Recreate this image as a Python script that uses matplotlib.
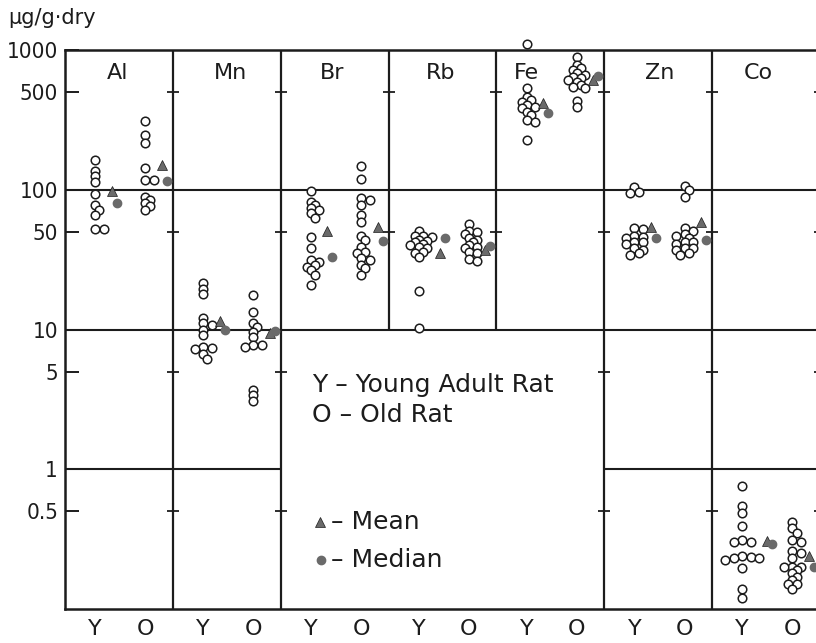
import numpy as np
import matplotlib.pyplot as plt
from matplotlib.ticker import NullLocator

# trace element levels, ug/g dry weight, young adult (Y) vs old (O) rats
elements = ["Al", "Mn", "Br", "Rb", "Fe", "Zn", "Co"]

al_young = [163, 137, 125, 114, 93, 78, 72, 66, 52, 52]
al_old = [312, 247, 215, 142, 117, 117, 89, 84, 80, 76, 72]
mn_young = [21.5, 19.5, 17.9, 12.1, 11.1, 10.8, 9.9, 9.1, 7.5, 7.4, 7.2, 6.7, 6.2]
mn_old = [17.6, 13.4, 11.1, 10.4, 9.6, 8.8, 7.7, 7.7, 7.5, 3.7, 3.4, 3.1]
br_young = [98, 82, 78, 74, 72, 68, 63, 46, 38.5, 31.4, 30.5, 28.9, 28.1, 26.6, 24.5, 20.8]
br_old = [148, 119, 87, 84, 78, 66, 59, 47, 43.7, 39, 36, 35, 32.3, 31.4, 28.9, 27.4, 24.5]
rb_young = [51, 47, 47, 46, 44, 43, 42, 41, 40, 39, 38, 36, 35, 33, 19, 10.3]
rb_old = [57, 51, 50, 48, 45, 44, 42, 40, 39, 38, 36, 35, 32, 31]
fe_young = [1104, 537, 464, 439, 425, 404, 391, 383, 362, 343, 315, 305, 227]
fe_old = [895, 782, 740, 720, 681, 662, 644, 627, 610, 593, 561, 546, 532, 431, 391]
zn_young = [104, 97, 95, 53, 52, 47, 46, 45, 42, 42, 41, 38, 37, 35, 34]
zn_old = [107, 100, 89, 53, 51, 48, 47, 45, 42, 42, 41, 38, 38, 37, 35, 34]
co_young = [0.76, 0.55, 0.49, 0.39, 0.31, 0.30, 0.30, 0.24, 0.235, 0.23, 0.23, 0.225,
            0.195, 0.14, 0.12]
co_old = [0.42, 0.38, 0.35, 0.31, 0.30, 0.26, 0.25, 0.23, 0.20, 0.20, 0.20, 0.19,
          0.18, 0.17, 0.16, 0.15, 0.15, 0.14]

mean_young = [98, 11.5, 51, 35, 417, 54, 0.306]
mean_old = [150, 9.5, 54, 37, 610, 59, 0.24]
median_young = [80, 10, 33, 45, 354, 45, 0.29]
median_old = [116, 9.8, 43, 39.5, 655, 44, 0.20]

young = [al_young, mn_young, br_young, rb_young, fe_young, zn_young, co_young]
old = [al_old, mn_old, br_old, rb_old, fe_old, zn_old, co_old]

ink = "#1c1c1c"
grey = "#6a6a6a"

fig = plt.figure(figsize=(8.16, 6.43), dpi=100)
ax = fig.add_axes([65 / 816, 34 / 643, 755 / 816, 559 / 643])
ax.set_yscale("log")
ax.set_xlim(0, 7)
ax.set_ylim(0.1, 1000)

for side in ["top", "left", "bottom", "right"]:
    ax.spines[side].set_linewidth(1.8)
    ax.spines[side].set_color(ink)

# panel frame: horizontal rules and vertical dividers
ax.hlines([100, 10], 0, 7, color=ink, lw=1.5)
ax.hlines(1, 0, 2, color=ink, lw=1.5)
ax.hlines(1, 5, 7, color=ink, lw=1.5)
ax.vlines([1, 2, 5, 6], 0.1, 1000, color=ink, lw=1.6)
ax.vlines([3, 4], 10, 1000, color=ink, lw=1.6)
for xd in range(1, 8):
    ax.hlines([500, 50], xd - 0.055, xd + 0.055, color=ink, lw=1.3)
for xd in [1, 2, 5, 6, 7]:
    ax.hlines([5, 0.5], xd - 0.055, xd + 0.055, color=ink, lw=1.3)

# y axis
yt = [0.5, 1, 5, 10, 50, 100, 500, 1000]
ax.set_yticks(yt)
ax.set_yticklabels(["0.5", "1", "5", "10", "50", "100", "500", "1000"])
ax.yaxis.set_minor_locator(NullLocator())
ax.tick_params(axis="y", direction="in", length=10, width=1.4, pad=5,
               labelsize=16, colors=ink)
for lbl in ax.get_yticklabels():
    lbl.set_fontstretch("condensed")

# x axis: Y / O under each panel
pos_y = [i + 0.28 for i in range(7)]
pos_o = [i + 0.745 for i in range(7)]
ax.set_xticks(pos_y + pos_o)
ax.set_xticklabels(["Y"] * 7 + ["O"] * 7)
ax.tick_params(axis="x", length=0, pad=7, labelsize=16, colors=ink)

fig.text(8 / 816, 1 - 18 / 643, "μg/g·dry", fontsize=15, va="center", ha="left",
         color=ink)

label_x = [0.49, 1.53, 2.48, 3.48, 4.28, 5.51, 6.43]
for name, lx in zip(elements, label_x):
    ax.text(lx, 684, name, fontsize=16, ha="center", va="center", color=ink)

diam = 8.5  # circle diameter in pixels
to_px = ax.transData
to_data = ax.transData.inverted()


def swarm(values, xc):
    """Nudge close values sideways so the circles stay readable, keeping the column tight."""
    vals = sorted(values, reverse=True)
    placed = []
    xs = []
    for v in vals:
        px, py = to_px.transform((xc, v))
        for k in [0, 1, -1, 2, -2, 3, -3, 4, -4, 5, -5]:
            cx = px + k * diam * 0.5
            if all(np.hypot(cx - qx, py - qy) >= diam * 0.6 for qx, qy in placed):
                break
        placed.append((cx, py))
        xs.append(to_data.transform((cx, py))[0])
    return np.array(xs), np.array(vals)


def group(values, xc, mean, median):
    xs, vs = swarm(values, xc)
    ax.scatter(xs, vs, s=38, facecolor="white", edgecolor=ink, linewidths=1.1,
               zorder=3, clip_on=False)
    right = to_px.transform((xs.max(), 1))[0]
    xm = to_data.transform((right + 8, 1))[0]
    xd = to_data.transform((right + 13, 1))[0]
    ax.plot(xm, mean, marker="^", ms=7, color=grey, mec=ink, mew=0.5, zorder=4,
            linestyle="none")
    ax.plot(xd, median, marker="o", ms=6, color=grey, mec=grey, zorder=4,
            linestyle="none")


for i in range(7):
    group(young[i], pos_y[i], mean_young[i], median_young[i])
    group(old[i], pos_o[i], mean_old[i], median_old[i])

# key in the empty lower middle box
ax.text(2.29, 4.0, "Y – Young Adult Rat", fontsize=18, va="center", color=ink)
ax.text(2.29, 2.44, "O – Old Rat", fontsize=18, va="center", color=ink)
ax.plot(2.364, 0.418, marker="^", ms=7, color=grey, mec=ink, mew=0.5,
        linestyle="none")
ax.text(2.47, 0.418, "– Mean", fontsize=18, va="center", color=ink)
ax.plot(2.37, 0.223, marker="o", ms=6, color=grey, linestyle="none")
ax.text(2.47, 0.223, "– Median", fontsize=18, va="center", color=ink)

fig.savefig("out.png", dpi=100)
